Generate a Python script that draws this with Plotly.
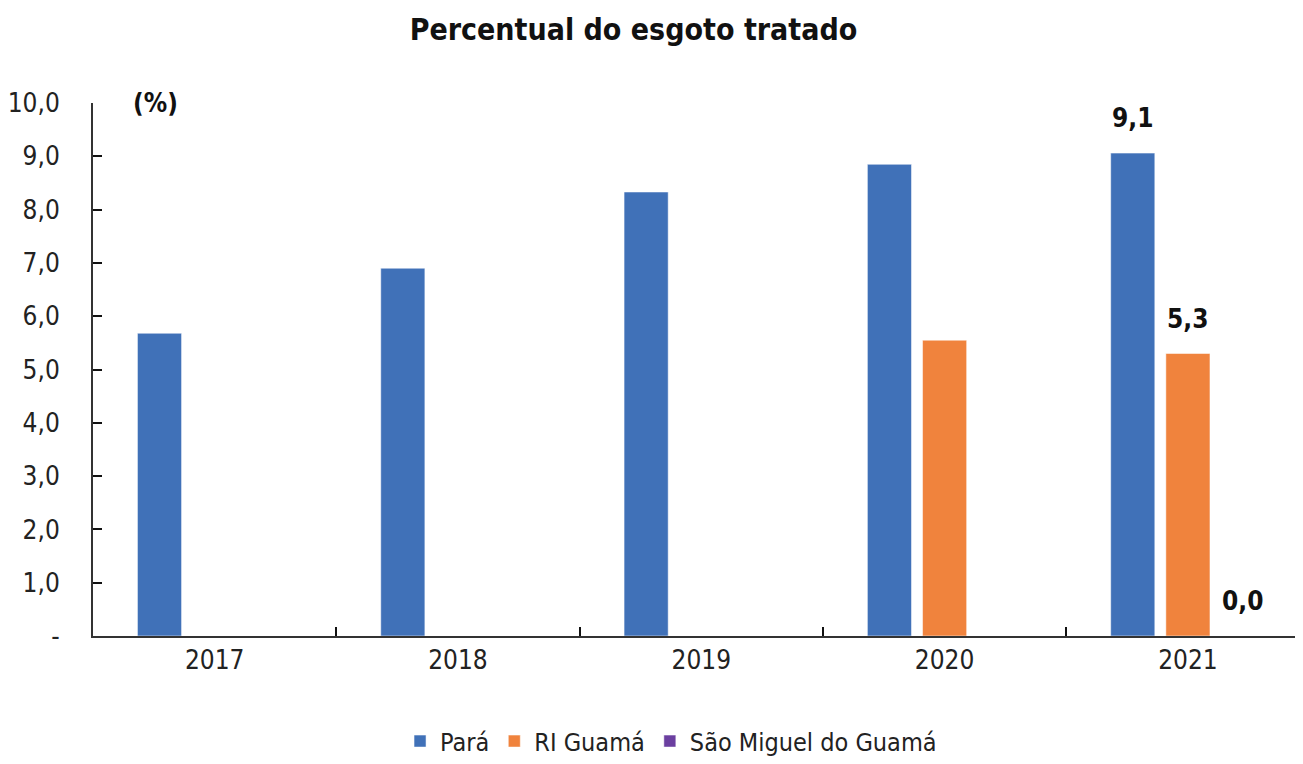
import plotly.graph_objects as go

years = ["2017", "2018", "2019", "2020", "2021"]
para = [5.68, 6.90, 8.33, 8.85, 9.06]
ri_guama = [None, None, None, 5.55, 5.30]
sao_miguel = [None, None, None, None, 0.0]
series_names = ["Pará", "RI Guamá", "São Miguel do Guamá"]
series_colors = ["#4071B8", "#F0833D", "#6B3FA0"]
label_year = "2021"
y_tickvals = [0, 1, 2, 3, 4, 5, 6, 7, 8, 9, 10]
y_ticktext = ["-", "1,0", "2,0", "3,0", "4,0", "5,0", "6,0", "7,0", "8,0", "9,0", "10,0"]

FONT = "Liberation Sans Narrow, Arial Narrow, DejaVu Sans Condensed, Liberation Sans, sans-serif"

fig = go.Figure()
all_series = [para, ri_guama, sao_miguel]
for name, vals, col in zip(series_names, all_series, series_colors):
    fig.add_trace(go.Bar(
        x=years, y=vals, name=name,
        marker=dict(color=col, line=dict(color="rgba(255,255,255,0.5)", width=1)),
        hoverinfo="x+y+name",
    ))

# data labels for the last year
slot_px = 55
idx = years.index(label_year)
for i, vals in enumerate(all_series):
    v = vals[idx]
    if v is None:
        continue
    fig.add_annotation(
        x=idx, y=v, xref="x", yref="y",
        text=f"{v:.1f}".replace(".", ","),
        showarrow=False, yanchor="bottom", yshift=18, xshift=(i - 1) * slot_px,
        font=dict(family=FONT, size=26, color="#111111", weight="bold"),
    )

fig.add_annotation(
    x=0.052, y=1.0, xref="paper", yref="paper", text="(%)", showarrow=False,
    xanchor="center", yanchor="middle",
    font=dict(family=FONT, size=26, color="#111111", weight="bold"),
)

fig.update_layout(
    width=1295, height=756,
    margin=dict(l=85, r=0, t=95, b=128, autoexpand=False),
    paper_bgcolor="white", plot_bgcolor="white",
    font=dict(family=FONT, size=24, color="#222222"),
    title=dict(text="Percentual do esgoto tratado", x=0.483, xref="container", xanchor="center",
               y=0.971, yref="container", yanchor="middle",
               font=dict(family=FONT, size=30, color="#111111", weight="bold")),
    barmode="group", bargap=0.32, bargroupgap=0.2,
    showlegend=True,
    legend=dict(orientation="h", x=0.512, xref="container", xanchor="center",
                y=0.03, yref="container", yanchor="middle",
                font=dict(family=FONT, size=25, color="#222222"),
                tracegroupgap=0),
)
fig.update_xaxes(
    type="category", range=[-0.5, 4.473], automargin=False,
    showline=True, linecolor="#333333", linewidth=2,
    ticks="inside", ticklen=9, tickwidth=2, tickcolor="#111111",
    tickson="boundaries", showgrid=False, zeroline=False,
    tickfont=dict(family=FONT, size=26, color="#222222"),
)
fig.update_yaxes(
    range=[0, 10], tickvals=y_tickvals, ticktext=y_ticktext, automargin=False,
    showline=True, linecolor="#333333", linewidth=2,
    ticks="inside", ticklen=9, tickwidth=2, tickcolor="#111111",
    ticklabelstandoff=26, showgrid=False, zeroline=False,
    tickfont=dict(family=FONT, size=26, color="#222222"),
)

fig.write_html("out.html")
